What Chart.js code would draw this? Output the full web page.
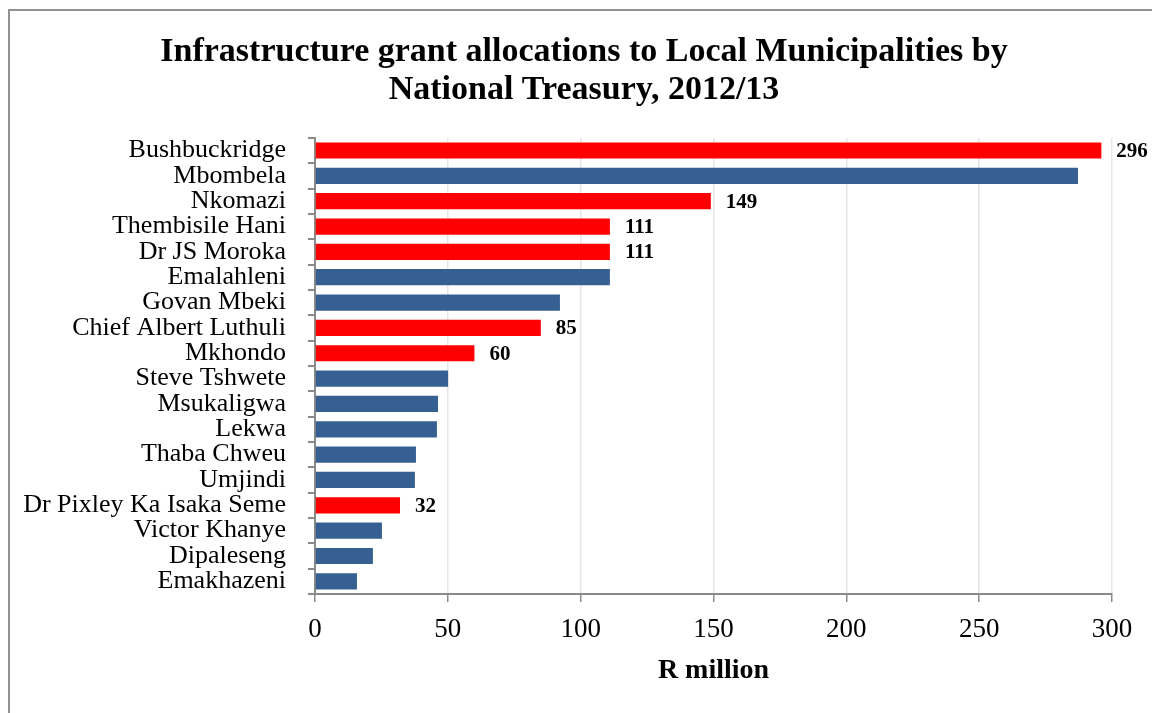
<!DOCTYPE html>
<html>
<head>
<meta charset="utf-8">
<title>Infrastructure grant allocations</title>
<script src="https://cdn.jsdelivr.net/npm/chart.js@4"></script>
<style>
  html, body { margin: 0; padding: 0; background: #fff; overflow: hidden; }
  body { width: 1152px; height: 713px; position: relative; }
  #frame { position: absolute; left: 8px; top: 9px; width: 2000px; height: 2000px; border: 2px solid #929292; }
  #wrap { position: absolute; left: 16px; top: 0; width: 1136px; height: 713px; }
</style>
</head>
<body>
<div id="frame"></div>
<div id="wrap"><canvas id="grantChart"></canvas></div>
<script>
'use strict'
let municipalities = ['Bushbuckridge', 'Mbombela', 'Nkomazi', 'Thembisile Hani', 'Dr JS Moroka', 'Emalahleni',
  'Govan Mbeki', 'Chief Albert Luthuli', 'Mkhondo', 'Steve Tshwete', 'Msukaligwa', 'Lekwa',
  'Thaba Chweu', 'Umjindi', 'Dr Pixley Ka Isaka Seme', 'Victor Khanye', 'Dipaleseng', 'Emakhazeni']
let allocations = [296, 287.2, 149, 111, 111, 111, 92.2, 85, 60, 50.1, 46.3, 45.9, 38, 37.6, 32, 25.2, 21.8, 15.8]
// municipalities shown in red with their value printed
let highlighted = ['Bushbuckridge', 'Nkomazi', 'Thembisile Hani', 'Dr JS Moroka', 'Chief Albert Luthuli', 'Mkhondo', 'Dr Pixley Ka Isaka Seme']
let xTicks = [0, 50, 100, 150, 200, 250, 300]

let red = '#ff0000'
let blue = '#376092'
let axisGrey = '#8a8a8a'
let serif = "'Liberation Serif', 'Times New Roman', serif"

let barColours = municipalities.map(m => highlighted.includes(m) ? red : blue)

// prints the value next to each red bar
let valueLabels = {
  id: 'valueLabels',
  afterDatasetsDraw(chart) {
    let ctx = chart.ctx
    let meta = chart.getDatasetMeta(0)
    ctx.save()
    ctx.font = 'bold 21px ' + serif
    ctx.fillStyle = '#000'
    ctx.textAlign = 'left'
    ctx.textBaseline = 'middle'
    meta.data.forEach((bar, i) => {
      if (!highlighted.includes(municipalities[i])) return
      ctx.fillText(Math.round(allocations[i]), bar.x + 15, bar.y + 1)
    })
    ctx.restore()
  }
}

let ctx = document.getElementById('grantChart').getContext('2d')
let grantChart = new Chart(ctx, {
  type: 'bar',
  data: {
    labels: municipalities,
    datasets: [{
      label: 'R million',
      data: allocations,
      backgroundColor: barColours,
      borderWidth: 0,
      barPercentage: 0.64,
      categoryPercentage: 1
    }]
  },
  options: {
    indexAxis: 'y',
    responsive: true,
    maintainAspectRatio: false,
    animation: false,
    layout: { padding: { top: 23, bottom: 25, left: 0, right: 0 } },
    plugins: {
      legend: { display: false },
      tooltip: { enabled: false },
      title: {
        display: true,
        text: ['Infrastructure grant allocations to Local Municipalities by', 'National Treasury, 2012/13'],
        color: '#000',
        font: { family: serif, size: 34, weight: 'bold', lineHeight: 1.13 },
        padding: { top: 10, bottom: 28 }
      }
    },
    scales: {
      x: {
        min: 0,
        max: 300,
        afterBuildTicks(scale) { scale.ticks = xTicks.map(v => ({ value: v })) },
        afterFit(scale) { scale.paddingRight = 40 },
        grid: { color: '#e6e6e6', lineWidth: 1.5, tickColor: axisGrey, tickLength: 8 },
        border: { color: axisGrey, width: 2 },
        ticks: { color: '#000', font: { family: serif, size: 27 }, padding: 12, maxRotation: 0 },
        title: {
          display: true,
          text: 'R million',
          color: '#000',
          font: { family: serif, size: 28, weight: 'bold' },
          padding: { top: -4, bottom: 0 }
        }
      },
      y: {
        afterFit(scale) { scale.width = 299 },
        grid: { drawOnChartArea: false, color: axisGrey, tickLength: 7, lineWidth: 2, offset: true },
        border: { color: axisGrey, width: 2 },
        ticks: { color: '#000', font: { family: serif, size: 26 }, padding: 22, autoSkip: false }
      }
    }
  },
  plugins: [valueLabels]
})
</script>
</body>
</html>
